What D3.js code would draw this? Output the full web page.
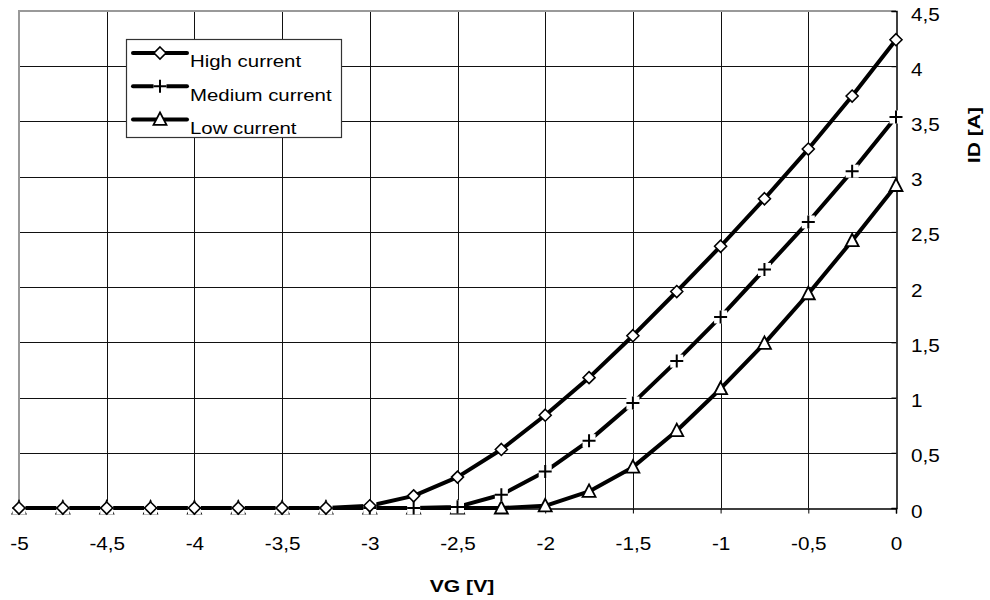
<!DOCTYPE html>
<html>
<head>
<meta charset="utf-8">
<title>ID vs VG</title>
<script src="https://d3js.org/d3.v7.min.js"></script>
<style>
  body { margin: 0; background: #fff; }
  svg { font-family: "Liberation Sans", Arial, sans-serif; }
</style>
</head>
<body>
<svg id="chart" width="990" height="600"></svg>
<script>
// gate voltage, step 0.25 V
const vg = [-5, -4.75, -4.5, -4.25, -4, -3.75, -3.5, -3.25, -3, -2.75, -2.5,
            -2.25, -2, -1.75, -1.5, -1.25, -1, -0.75, -0.5, -0.25, 0];
const highCurrent   = [0, 0, 0, 0, 0, 0, 0, 0, 0.02, 0.11, 0.28, 0.53, 0.84, 1.18,
                       1.56, 1.96, 2.37, 2.8, 3.25, 3.73, 4.24];
const mediumCurrent = [0, 0, 0, 0, 0, 0, 0, 0, 0, 0, 0.01, 0.12, 0.33, 0.61,
                       0.95, 1.33, 1.73, 2.16, 2.59, 3.05, 3.54];
const lowCurrent    = [0, 0, 0, 0, 0, 0, 0, 0, 0, 0, 0, 0, 0.02, 0.15,
                       0.37, 0.7, 1.08, 1.49, 1.94, 2.42, 2.92];
const xTicks = [-5, -4.5, -4, -3.5, -3, -2.5, -2, -1.5, -1, -0.5, 0];
const yTicks = [0, 0.5, 1, 1.5, 2, 2.5, 3, 3.5, 4, 4.5];

const series = [
  {name: 'High current', values: highCurrent, marker: 'diamond'},
  {name: 'Medium current', values: mediumCurrent, marker: 'cross'},
  {name: 'Low current', values: lowCurrent, marker: 'triangle'}
];

const svg = d3.select('#chart');
const pLeft = 19, pRight = 896, pTop = 11, pBottom = 508;
// the original text is a little wide, so stretch it horizontally
const tickStretch = 1.15, legendStretch = 1.2, titleStretch = 1.28;

const x = d3.scaleLinear().domain([-5, 0]).range([pLeft, pRight]);
const y = d3.scaleLinear().domain([0, 4.5]).range([pBottom, pTop]);
const fmt = d => String(d).replace('.', ',');

// grid
const grid = svg.append('g');
grid.selectAll('.vg').data(xTicks.slice(1, -1)).join('line')
  .attr('x1', d => Math.round(x(d)) + 0.5).attr('x2', d => Math.round(x(d)) + 0.5)
  .attr('y1', pTop).attr('y2', pBottom)
  .style('stroke', '#111').style('stroke-width', 1);
grid.selectAll('.hg').data(yTicks.slice(1, -1)).join('line')
  .attr('x1', pLeft).attr('x2', pRight)
  .attr('y1', d => Math.round(y(d)) + 0.5).attr('y2', d => Math.round(y(d)) + 0.5)
  .style('stroke', '#111').style('stroke-width', 1);

// plot area border (top / left)
svg.append('path')
  .attr('d', `M${pLeft},${pBottom}V${pTop}H${pRight}`)
  .style('fill', 'none').style('stroke', '#999').style('stroke-width', 2);

// axes
const xAxis = svg.append('g').attr('transform', `translate(0,${pBottom + 0.5})`)
  .call(d3.axisBottom(x).tickValues(xTicks).tickFormat(fmt).tickSize(5).tickPadding(24));
const yAxis = svg.append('g').attr('transform', `translate(${pRight + 0.5},0)`)
  .call(d3.axisRight(y).tickValues(yTicks).tickFormat(fmt).tickSize(-5));
[xAxis, yAxis].forEach(a => {
  a.select('.domain').style('stroke', '#000').style('stroke-width', 1.5);
  a.selectAll('.tick line').style('stroke', '#000');
  a.selectAll('text').style('font-size', '18px').style('fill', '#000')
    .style('font-family', '"Liberation Sans", Arial, sans-serif')
    .attr('transform', `scale(${tickStretch},1)`);
});
yAxis.selectAll('text').attr('dy', '0.5em').attr('x', 14.5 / tickStretch);

svg.append('text').attr('transform', `translate(462,592) scale(${titleStretch},1)`)
  .attr('text-anchor', 'middle')
  .style('font-size', '16.5px').style('font-weight', 'bold').text('VG [V]');
svg.append('text').attr('transform', `translate(980,135) rotate(-90) scale(${titleStretch},1)`)
  .attr('text-anchor', 'middle')
  .style('font-size', '16.5px').style('font-weight', 'bold').text('ID [A]');

// markers
function drawMarker(g, type, cx, cy) {
  if (type === 'diamond') {
    g.append('path').attr('d', `M${cx},${cy - 6}L${cx + 6},${cy}L${cx},${cy + 6}L${cx - 6},${cy}Z`)
      .style('fill', '#fff').style('stroke', '#000').style('stroke-width', 1.6);
  } else if (type === 'triangle') {
    g.append('path').attr('d', `M${cx},${cy - 7}L${cx + 6.5},${cy + 5.5}L${cx - 6.5},${cy + 5.5}Z`)
      .style('fill', '#fff').style('stroke', '#000').style('stroke-width', 1.8);
  } else {
    g.append('rect').attr('x', cx - 6.5).attr('y', cy - 6.5).attr('width', 13).attr('height', 13)
      .style('fill', '#fff');
    g.append('path').attr('d', `M${cx - 6.5},${cy}H${cx + 6.5}M${cx},${cy - 6.5}V${cy + 6.5}`)
      .style('stroke', '#000').style('stroke-width', 2);
  }
}

const line = d3.line().x(d => x(d[0])).y(d => y(d[1]));
const lines = svg.append('g');
const marks = svg.append('g');
// low first so the higher series sit on top, as in the reference
series.slice().reverse().forEach(s => {
  const pts = vg.map((v, i) => [v, s.values[i]]);
  lines.append('path').attr('d', line(pts))
    .style('fill', 'none').style('stroke', '#000').style('stroke-width', 4)
    .style('stroke-linejoin', 'round');
});
series.slice().reverse().forEach(s => {
  vg.forEach((v, i) => drawMarker(marks, s.marker, x(v), y(s.values[i])));
});

// legend
const lg = svg.append('g');
lg.append('rect').attr('x', 126.5).attr('y', 39.5).attr('width', 215).attr('height', 98)
  .style('fill', '#fff').style('stroke', '#333').style('stroke-width', 1.2);
series.forEach((s, i) => {
  const ly = 53 + i * 33.2;
  lg.append('line').attr('x1', 133).attr('x2', 187).attr('y1', ly).attr('y2', ly)
    .style('stroke', '#000').style('stroke-width', 4).style('stroke-linecap', 'round');
  drawMarker(lg, s.marker, 160, ly);
  lg.append('text').attr('transform', `translate(190,${ly + 14.3}) scale(${legendStretch},1)`)
    .style('font-size', '17px').text(s.name);
});
</script>
</body>
</html>
